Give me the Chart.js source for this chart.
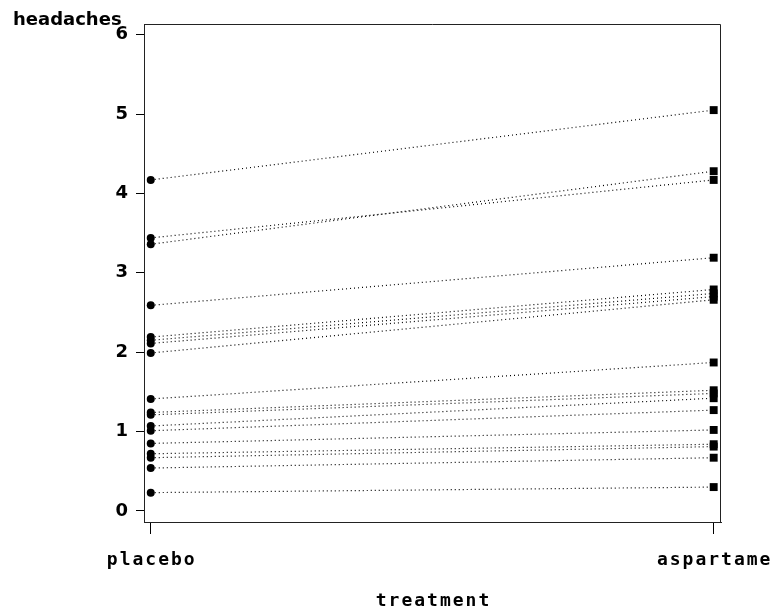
<!DOCTYPE html>
<html>
<head>
<meta charset="utf-8">
<script src="https://cdn.jsdelivr.net/npm/chart.js@4/dist/chart.umd.min.js"></script>
<style>
  html, body { margin: 0; padding: 0; background: #fff; }
  #wrap { width: 771px; height: 609px; }
</style>
</head>
<body>
<div id="wrap"><canvas id="headacheChart" width="771" height="609"></canvas></div>
<script>
let treatments = ['placebo', 'aspartame'];
// one entry per subject
let placebo   = [4.17, 3.44, 3.36, 2.59, 2.19, 2.15, 2.11, 1.99, 1.41, 1.24, 1.21, 1.07, 1.01, 0.85, 0.72, 0.67, 0.54, 0.23];
let aspartame = [5.05, 4.17, 4.28, 3.19, 2.79, 2.74, 2.70, 2.66, 1.87, 1.52, 1.48, 1.42, 1.27, 1.02, 0.84, 0.81, 0.67, 0.30];
let yTicks = [0, 1, 2, 3, 4, 5, 6];

let datasets = placebo.map((p, i) => ({
    data: [{x: 0, y: p}, {x: 1, y: aspartame[i]}],
    borderColor: '#000',
    backgroundColor: '#000',
    borderWidth: 1.2,
    borderDash: [1, 3],
    pointStyle: ['circle', 'rect'],
    pointRadius: [4, 5.6],
    pointBorderWidth: 0
}));

// frame, labels and titles
const decor = {
    id: 'decor',
    afterDraw(chart) {
        const ctx = chart.ctx;
        const a = chart.chartArea;
        const xs = chart.scales.x;
        ctx.save();
        ctx.strokeStyle = '#222';
        ctx.lineWidth = 1;
        ctx.beginPath();
        ctx.moveTo(a.left, a.top + 0.5);
        ctx.lineTo(a.right - 0.5, a.top + 0.5);
        ctx.lineTo(a.right - 0.5, a.bottom);
        ctx.stroke();

        ctx.fillStyle = '#000';
        ctx.font = 'bold 18px "DejaVu Sans"';
        ctx.textAlign = 'left';
        ctx.textBaseline = 'alphabetic';
        ctx.fillText('headaches', 13, 25);

        ctx.font = 'bold 18px "DejaVu Sans Mono"';
        ctx.letterSpacing = '2px';
        ctx.textAlign = 'center';
        treatments.forEach((t, i) => {
            ctx.fillText(t, xs.getPixelForValue(i) + 1, 565);
        });
        ctx.fillText('treatment', (a.left + a.right) / 2 + 1, 606);
        ctx.restore();
    }
};

new Chart(document.getElementById('headacheChart'), {
    type: 'line',
    data: { datasets: datasets },
    options: {
        responsive: false,
        animation: false,
        layout: { padding: { top: 24, right: 50, left: 0, bottom: 0 } },
        plugins: { legend: { display: false }, tooltip: { enabled: false } },
        scales: {
            x: {
                type: 'linear',
                min: -0.012,
                max: 1.013,
                afterBuildTicks: s => { s.ticks = treatments.map((t, i) => ({value: i})); },
                afterFit: s => { s.height = 87; },
                ticks: { display: false },
                grid: { drawOnChartArea: false, drawTicks: true, tickLength: 12, color: '#000', lineWidth: 1 },
                border: { display: true, color: '#222', width: 1 }
            },
            y: {
                min: -0.14,
                max: 6.135,
                afterBuildTicks: s => { s.ticks = yTicks.map(v => ({value: v})); },
                afterFit: s => { s.width = 144; },
                ticks: {
                    padding: 8,
                    color: '#000',
                    font: { family: 'DejaVu Sans', weight: 'bold', size: 18 }
                },
                grid: { drawOnChartArea: false, drawTicks: true, tickLength: 8, color: '#000', lineWidth: 1 },
                border: { display: true, color: '#222', width: 1 }
            }
        }
    },
    plugins: [decor]
});
</script>
</body>
</html>
